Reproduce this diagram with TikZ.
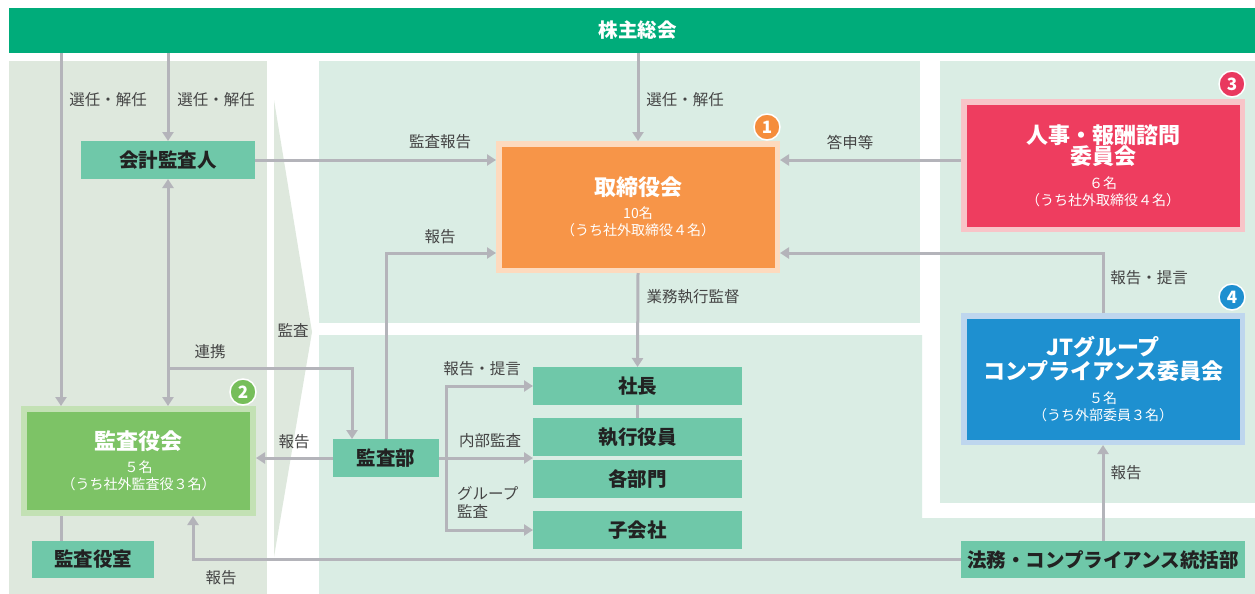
\documentclass[tikz,border=0pt]{standalone}
\usepackage{fontspec}
\setmainfont{Noto Sans CJK JP}
\usetikzlibrary{arrows.meta,calc}
\definecolor{topgreen}{RGB}{0,172,122}
\definecolor{leftpanel}{RGB}{222,232,221}
\definecolor{mint}{RGB}{218,237,228}
\definecolor{tealbox}{RGB}{111,200,169}
\definecolor{linegray}{RGB}{180,180,186}
\definecolor{labelgray}{RGB}{68,68,68}
\definecolor{boxtext}{RGB}{34,34,34}
\definecolor{orangeIn}{RGB}{247,149,72}
\definecolor{orangeBd}{RGB}{253,218,190}
\definecolor{redIn}{RGB}{238,61,95}
\definecolor{redBd}{RGB}{248,196,200}
\definecolor{blueIn}{RGB}{30,144,208}
\definecolor{blueBd}{RGB}{190,214,238}
\definecolor{greenIn}{RGB}{125,195,102}
\definecolor{greenBd}{RGB}{195,225,180}
\definecolor{badgeO}{RGB}{245,141,60}
\definecolor{badgeG}{RGB}{118,190,90}
\definecolor{badgeR}{RGB}{233,56,95}
\definecolor{badgeB}{RGB}{30,143,208}
\newcommand{\ttl}[1]{{\fontsize{22}{24}\selectfont\bfseries #1}}
\tikzset{
  lbl/.style={text=labelgray, font=\fontsize{15.5}{18}\selectfont, inner sep=0pt},
  tbox/.style={fill=tealbox, text=boxtext, font=\fontsize{19.5}{22}\selectfont\bfseries,
    inner sep=0pt, outer sep=0pt, minimum height=38pt},
  bigbox/.style={line width=5.5pt, outer sep=2.75pt, inner sep=0pt, text=white,
    align=center, font=\fontsize{14}{17}\selectfont},
  badge/.style={circle, fill=#1, draw=white, line width=1.5pt, text=white,
    font=\fontsize{17}{17}\selectfont\bfseries, minimum size=26pt, inner sep=0pt},
  ln/.style={draw=linegray, line width=3pt},
  arr/.style={ln, -{Triangle[width=11pt,length=9pt]}},
}
\begin{document}
\begin{tikzpicture}[x=1pt,y=-1pt]
\useasboundingbox (0,0) rectangle (1255,594);
\fill[white] (0,0) rectangle (1255,594);
% background panels
\fill[leftpanel] (9,61) rectangle (267,594);
\fill[leftpanel] (274,100) -- (312,332) -- (274,557) -- cycle;
\fill[mint] (319,61) rectangle (920,323);
\fill[mint] (319,335) -- (922,335) -- (922,518) -- (1255,518) -- (1255,594) -- (319,594) -- cycle;
\fill[mint] (940,61) rectangle (1255,503);

% nodes
\node[tbox, fill=topgreen, text=white, minimum width=1246pt, minimum height=45pt,
  font=\fontsize{19.5}{22}\selectfont\bfseries] (gm) at (632,30.5) {\hspace*{11pt}株主総会};
\node[tbox, minimum width=174pt] (kai) at (168,160) {会計監査人};
\node[bigbox, fill=orangeIn, draw=orangeBd, minimum width=278.5pt, minimum height=126.5pt]
  (tori) at (638,207) {\ttl{取締役会}\\[6.5pt]10名\\（うち社外取締役４名）};
\node[bigbox, fill=redIn, draw=redBd, minimum width=278.5pt, minimum height=127.5pt]
  (jinji) at (1103,165.5) {\ttl{人事・報酬諮問}\\\ttl{委員会}\\[6.5pt]６名\\（うち社外取締役４名）};
\node[bigbox, fill=blueIn, draw=blueBd, minimum width=278.5pt, minimum height=126.5pt]
  (jt) at (1103,379) {\ttl{JTグループ}\\[1.5pt]\ttl{コンプライアンス委員会}\\[6.5pt]５名\\（うち外部委員３名）};
\node[bigbox, fill=greenIn, draw=greenBd, line width=6pt, outer sep=3pt,
  minimum width=229pt, minimum height=104pt]
  (ksk) at (138.5,461) {\ttl{監査役会}\\[6.5pt]５名\\（うち社外監査役３名）};
\node[tbox, minimum width=122pt, minimum height=37pt] (ksr) at (93,559.5) {監査役室};
\node[tbox, minimum width=106pt] (kbu) at (386,458) {監査部};
\node[tbox, minimum width=209pt] (sha) at (637.5,386) {社長};
\node[tbox, minimum width=209pt] (shk) at (637.5,437) {執行役員};
\node[tbox, minimum width=209pt] (kaku) at (637.5,479) {各部門};
\node[tbox, minimum width=209pt] (ko) at (637.5,530) {子会社};
\node[tbox, minimum width=284pt, minimum height=37pt] (hom) at (1103,559.5) {法務・コンプライアンス統括部};

% badges
\node[badge=badgeO] (b1) at (767,127) {1};
\node[badge=badgeG] (b2) at (243,392) {2};
\node[badge=badgeR] (b3) at (1232,84) {3};
\node[badge=badgeB] (b4) at (1232,297) {4};

% helper coordinates
\coordinate (xL) at (61,0);
\coordinate (xR) at (193,0);
\coordinate (xC) at (352,0);
\coordinate (xB) at (446,0);
\coordinate (yA) at (0,160);
\coordinate (yB) at (0,253);
\coordinate (yC) at (0,368);

% connectors
\draw[arr] (gm.south -| xL) -- (ksk.north -| xL);
\draw[arr] (gm.south -| kai) -- (kai.north);
\draw[arr] (gm.south -| tori) -- (tori.north);
\draw[arr] (kai.east) -- (tori.west |- kai.east);
\draw[arr] (jinji.west |- yA) -- (tori.east |- yA);
\draw[arr] (kbu.north) |- (tori.west |- yB);
\draw[arr] (jt.north) |- (tori.east |- yB);
\draw[arr] (tori.south) -- (sha.north);
\draw[arr] (hom.north) -- (jt.south);
\draw[arr] (hom.west) -| (ksk.south -| xR);
\draw[ln, {Triangle[width=11pt,length=9pt]}-{Triangle[width=11pt,length=9pt]}] (kai.south) -- (kai.south |- ksk.north);
\draw[arr] (kai.south |- yC) -| (kbu.north -| xC);
\draw[arr] (kbu.west) -- (ksk.east |- kbu.west);
\draw[ln] (ksk.south -| xL) -- (ksr.north -| xL);
\draw[ln] (sha.south) -- (shk.north);
\draw[arr] (kbu.east) -- (sha.west |- kbu.east);
\draw[arr] (kbu.east -| xB) |- (sha.west);
\draw[arr] (kbu.east -| xB) |- (ko.west);

% labels
\node[lbl] (l1) at (108,100) {選任・解任};
\node[lbl] (l2) at (216,100) {選任・解任};
\node[lbl] (l3) at (685,100) {選任・解任};
\node[lbl] (l4) at (440,142) {監査報告};
\node[lbl] (l5) at (850,142) {答申等};
\node[lbl] (l6) at (440,237) {報告};
\node[lbl] (l7) at (693,297) {業務執行監督};
\node[lbl] (l8) at (1149,278) {報告・提言};
\node[lbl] (l9) at (1126,473) {報告};
\node[lbl] (l10) at (210,352) {連携};
\node[lbl] (l11) at (293,330) {監査};
\node[lbl] (l12) at (294,442) {報告};
\node[lbl] (l13) at (221,578) {報告};
\node[lbl] (l14) at (482,369) {報告・提言};
\node[lbl] (l15) at (490,441) {内部監査};
\node[lbl, anchor=west, align=left] (l16) at (457,502) {グループ\\監査};
\end{tikzpicture}
\end{document}
